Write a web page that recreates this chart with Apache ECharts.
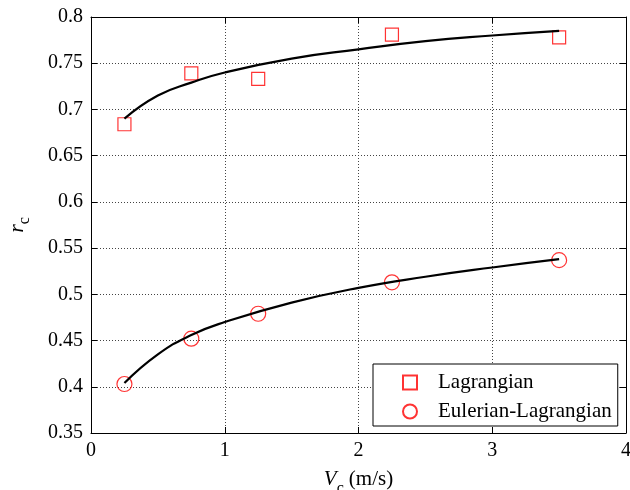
<!DOCTYPE html>
<html>
<head>
<meta charset="utf-8">
<script src="https://cdn.jsdelivr.net/npm/echarts@6/dist/echarts.min.js"></script>
<style>
  html, body { margin: 0; padding: 0; background: #fff; }
  #chart { width: 630px; height: 490px; }
</style>
</head>
<body>
<div id="chart"></div>
<script>
// Measured points: speed V_c (m/s) against ratio r_c
const speeds = [0.25, 0.75, 1.25, 2.25, 3.5];
const lagrangian = [0.684, 0.739, 0.733, 0.781, 0.778];
const eulerianLagrangian = [0.403, 0.452, 0.479, 0.513, 0.537];

// Fitted trend curves
const fitSpeeds = [0.25, 0.5, 0.75, 1, 1.5, 2, 2.5, 3, 3.5];
const lagrangianFit = [0.690, 0.715, 0.729, 0.740, 0.755, 0.765, 0.774, 0.780, 0.785];
const eulerianLagrangianFit = [0.404, 0.435, 0.456, 0.470, 0.491, 0.507, 0.519, 0.529, 0.538];

const xTicks = { min: 0, max: 4, step: 1 };
const yTicks = { min: 0.35, max: 0.8, step: 0.05 };

const FONT = "'Liberation Serif', 'Times New Roman', Times, serif";

const pairs = (xs, ys) => xs.map((x, i) => [x, ys[i]]);
const fmt = v => String(Math.round(v * 100) / 100);

const gridLine = { show: true, lineStyle: { color: '#444', type: [1, 2], width: 1 } };
const frameLine = { show: true, onZero: false, lineStyle: { color: '#000', width: 1 } };
const ticksIn = { show: true, inside: true, length: 6, lineStyle: { color: '#000', width: 1 } };

const tickLabel = {
  color: '#000', fontFamily: FONT, fontSize: 20, fontWeight: 'normal', margin: 8, formatter: fmt
};

const chart = echarts.init(document.getElementById('chart'), null, { renderer: 'canvas' });

chart.setOption({
  animation: false,
  backgroundColor: '#fff',
  textStyle: { fontFamily: FONT },
  grid: { left: 91, right: 4, top: 17, bottom: 57, containLabel: false, outerBoundsMode: 'none' },
  xAxis: [
    {
      type: 'value', min: xTicks.min, max: xTicks.max, interval: xTicks.step,
      position: 'bottom',
      axisLine: frameLine, axisTick: ticksIn, splitLine: gridLine,
      axisLabel: tickLabel,
      name: '{i|V}{s|c} {t|(m/s)}',
      nameLocation: 'middle', nameGap: 28,
      nameTextStyle: {
        color: '#000', fontFamily: FONT, fontSize: 20,
        rich: {
          i: { fontStyle: 'italic', fontFamily: FONT, fontSize: 21, color: '#000', lineHeight: 36 },
          s: { fontFamily: FONT, fontSize: 16, color: '#000', lineHeight: 12, verticalAlign: 'bottom' },
          t: { fontFamily: FONT, fontSize: 21, color: '#000', lineHeight: 36 }
        }
      }
    },
    {
      type: 'value', min: xTicks.min, max: xTicks.max, interval: xTicks.step,
      position: 'top',
      axisLine: frameLine, axisTick: ticksIn, splitLine: { show: false },
      axisLabel: { show: false }
    }
  ],
  yAxis: [
    {
      type: 'value', min: yTicks.min, max: yTicks.max, interval: yTicks.step,
      position: 'left',
      axisLine: frameLine, axisTick: ticksIn, splitLine: gridLine,
      axisLabel: tickLabel,
      name: '{i|r}{s|c}',
      nameLocation: 'middle', nameGap: 58, nameRotate: 90,
      nameTextStyle: {
        color: '#000', fontFamily: FONT, fontSize: 20,
        rich: {
          i: { fontStyle: 'italic', fontFamily: FONT, fontSize: 22, color: '#000', lineHeight: 32 },
          s: { fontFamily: FONT, fontSize: 16, color: '#000', lineHeight: 12, verticalAlign: 'bottom' }
        }
      }
    },
    {
      type: 'value', min: yTicks.min, max: yTicks.max, interval: yTicks.step,
      position: 'right',
      axisLine: frameLine, axisTick: ticksIn, splitLine: { show: false },
      axisLabel: { show: false }
    }
  ],
  legend: {
    data: ['Lagrangian', 'Eulerian-Lagrangian'],
    orient: 'vertical',
    left: 373, top: 364,
    backgroundColor: '#fff',
    borderColor: '#000', borderWidth: 1,
    padding: [8, 6, 4, 29],
    itemGap: 8,
    itemWidth: 14, itemHeight: 14,
    textStyle: { color: '#000', fontFamily: FONT, fontSize: 21, padding: [0, 0, 0, 16] }
  },
  series: [
    {
      name: 'Lagrangian', type: 'scatter',
      data: pairs(speeds, lagrangian),
      symbol: 'rect', symbolSize: 13,
      itemStyle: { color: 'rgba(255,255,255,0)', borderColor: '#ff0000', borderWidth: 1.2 },
      z: 2
    },
    {
      name: 'Eulerian-Lagrangian', type: 'scatter',
      data: pairs(speeds, eulerianLagrangian),
      symbol: 'circle', symbolSize: 15,
      itemStyle: { color: 'rgba(255,255,255,0)', borderColor: '#ff0000', borderWidth: 1.2 },
      z: 2
    },
    {
      name: 'Lagrangian fit', type: 'line',
      data: pairs(fitSpeeds, lagrangianFit),
      smooth: true, showSymbol: false, symbol: 'none',
      lineStyle: { color: '#000', width: 2.2 },
      z: 3
    },
    {
      name: 'Eulerian-Lagrangian fit', type: 'line',
      data: pairs(fitSpeeds, eulerianLagrangianFit),
      smooth: true, showSymbol: false, symbol: 'none',
      lineStyle: { color: '#000', width: 2.2 },
      z: 3
    }
  ]
});
</script>
</body>
</html>
